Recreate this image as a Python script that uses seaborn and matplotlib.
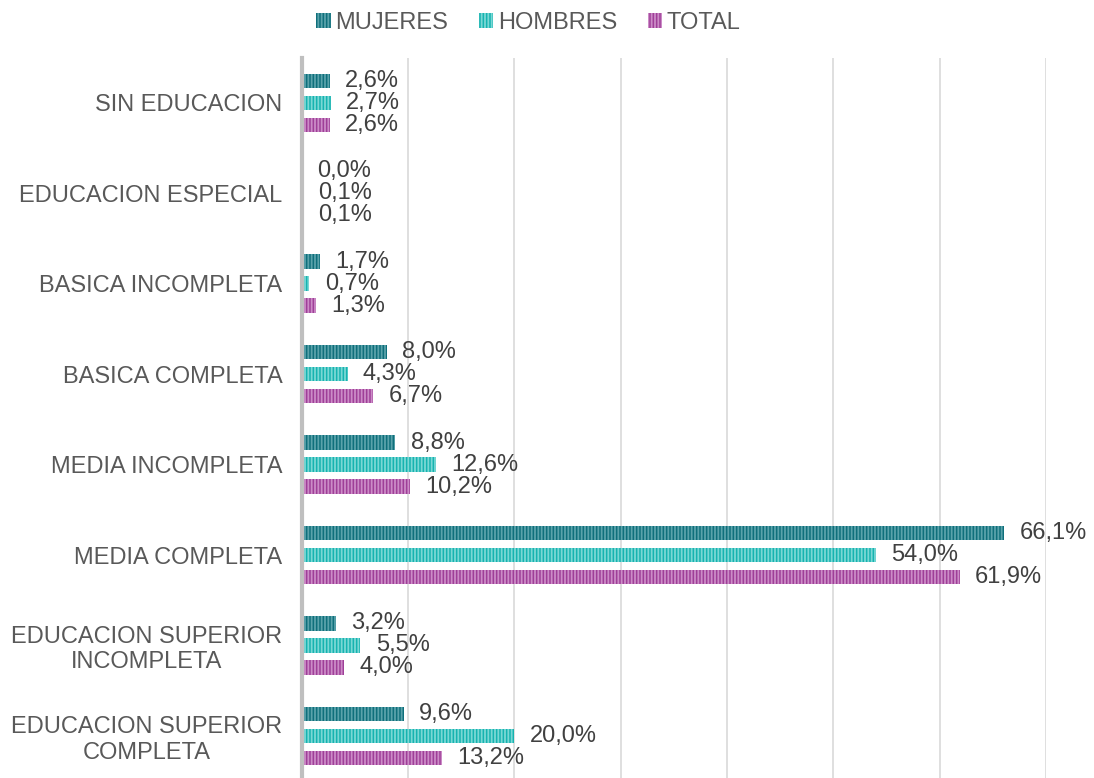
import seaborn as sns
import pandas as pd
import matplotlib.pyplot as plt
from matplotlib.patches import Patch

categories = [
    "SIN EDUCACION",
    "EDUCACION ESPECIAL",
    "BASICA INCOMPLETA",
    "BASICA COMPLETA",
    "MEDIA INCOMPLETA",
    "MEDIA COMPLETA",
    "EDUCACION SUPERIOR\nINCOMPLETA",
    "EDUCACION SUPERIOR\nCOMPLETA",
]
mujeres = [2.6, 0.0, 1.7, 8.0, 8.8, 66.1, 3.2, 9.6]
hombres = [2.7, 0.1, 0.7, 4.3, 12.6, 54.0, 5.5, 20.0]
total = [2.6, 0.1, 1.3, 6.7, 10.2, 61.9, 4.0, 13.2]
series = ["MUJERES", "HOMBRES", "TOTAL"]

face = {"MUJERES": "#0f6f7b", "HOMBRES": "#16b3b0", "TOTAL": "#9f3f98"}
stripe = {"MUJERES": "#5aa3ab", "HOMBRES": "#7ad8d5", "TOTAL": "#cc8cc7"}

rows = []
for name, vals in zip(series, [mujeres, hombres, total]):
    for cat, v in zip(categories, vals):
        rows.append({"cat": cat, "serie": name, "valor": v})
df = pd.DataFrame(rows)

sns.set_style("white")
plt.rcParams["font.family"] = ["Arial", "Liberation Sans", "DejaVu Sans"]
plt.rcParams["hatch.linewidth"] = 1.3

fig = plt.figure(figsize=(10.94, 7.78), dpi=100)
ax = fig.add_axes([0.276, -0.004, 0.680, 0.930])

sns.barplot(data=df, x="valor", y="cat", hue="serie", hue_order=series,
            palette=face, orient="h", width=0.73, gap=0.34, ax=ax,
            legend=False, saturation=1)

for cont, name in zip(ax.containers, series):
    for p in cont:
        p.set_facecolor(face[name])
        p.set_edgecolor(stripe[name])
        p.set_linewidth(0)
        p.set_hatch("|||||")
    ax.bar_label(cont, labels=[f"{v:.1f}%".replace(".", ",") for v in cont.datavalues],
                 padding=11, fontsize=17, color="#404040")

ax.set_xlim(0, 70)
ax.set_ylim(7.5, -0.5)
ax.set_xticks(range(0, 71, 10))
ax.set_xticklabels([])
ax.grid(axis="x", color="#d9d9d9", linewidth=1.2)
ax.set_axisbelow(True)
ax.tick_params(axis="both", length=0)
ax.tick_params(axis="y", labelsize=17, labelcolor="#595959", pad=14)
for lab in ax.get_yticklabels():
    lab.set_multialignment("center")
ax.set_xlabel("")
ax.set_ylabel("")
for s in ["top", "right", "bottom"]:
    ax.spines[s].set_visible(False)
ax.spines["left"].set_color("#bfbfbf")
ax.spines["left"].set_linewidth(3)

handles = [Patch(facecolor=face[n], edgecolor=stripe[n], linewidth=0, hatch="|||||") for n in series]
fig.legend(handles, series, loc="center", bbox_to_anchor=(0.483, 0.971), ncol=3,
           frameon=False, fontsize=17, handlelength=0.6, handleheight=0.6,
           handletextpad=0.2, columnspacing=1.3, labelcolor="#595959")

fig.savefig("out.png", dpi=100)
